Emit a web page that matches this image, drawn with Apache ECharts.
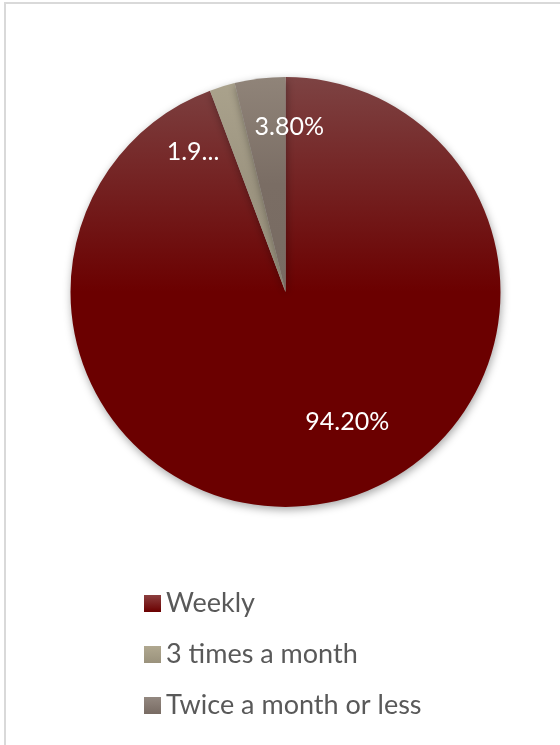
<!DOCTYPE html>
<html>
<head>
<meta charset="utf-8">
<script src="https://cdn.jsdelivr.net/npm/echarts@6/dist/echarts.min.js"></script>
<style>
  html, body { margin: 0; padding: 0; background: #ffffff; }
  #chart { width: 560px; height: 745px; }
</style>
</head>
<body>
<div id="chart"></div>
<script>
// Attendance frequency shares (percent)
const categories = ['Weekly', '3 times a month', 'Twice a month or less'];
const shares = [94.2, 1.9, 3.8];

// Slice fills: lighter at the top, darkening downward
const sliceFills = [
  ['#7d4343', '#6b0000', '#6b0000'],
  ['#aaa28c', '#9c9480', '#9a927e'],
  ['#908479', '#7a6d64', '#786b62']
];
// Legend swatch fills
const swatchFills = [
  ['#8c3f3f', '#6b0000'],
  ['#b0a890', '#9a927c'],
  ['#938880', '#786b63']
];

function vGrad(stops) {
  return {
    type: 'linear', x: 0, y: 0, x2: 0, y2: 1,
    colorStops: stops.map((c, i) => ({ offset: i / (stops.length - 1), color: c }))
  };
}

// Nudges that move each value label from the slice midpoint to where it sits
const labelNudge = [
  { dx: 42, dy: 21 },
  { dx: -60, dy: -34 },
  { dx: 17, dy: -55 }
];

const chart = echarts.init(document.getElementById('chart'));

const seriesData = categories.map((name, i) => ({
  name: name,
  value: shares[i],
  itemStyle: { color: vGrad(sliceFills[i]) },
  label: i === 1 ? { width: 64, overflow: 'truncate', ellipsis: '...' } : {}
}));

chart.setOption({
  animation: false,
  backgroundColor: '#ffffff',
  graphic: [{
    type: 'rect',
    shape: { x: 5, y: 3, width: 620, height: 820 },
    style: { fill: 'none', stroke: '#d9d9d9', lineWidth: 2 },
    silent: true
  }],
  legend: {
    orient: 'vertical',
    left: 144,
    top: 590,
    padding: 0,
    itemWidth: 17,
    itemHeight: 17,
    itemGap: 24,
    icon: 'rect',
    textStyle: { fontFamily: 'Lato', fontSize: 27, lineHeight: 27, color: '#595959' },
    data: categories.map((name, i) => ({
      name: name,
      itemStyle: { color: vGrad(swatchFills[i]) }
    }))
  },
  series: [{
    type: 'pie',
    center: [285.5, 292],
    radius: 215,
    startAngle: 90,
    clockwise: true,
    avoidLabelOverlap: false,
    label: {
      show: true,
      position: 'inside',
      color: '#ffffff',
      fontFamily: 'Lato',
      fontSize: 25,
      formatter: p => p.value.toFixed(2) + '%'
    },
    labelLine: { show: false },
    labelLayout: p => labelNudge[p.dataIndex],
    itemStyle: {
      borderWidth: 0,
      shadowBlur: 8,
      shadowOffsetX: 1,
      shadowOffsetY: 3,
      shadowColor: 'rgba(0,0,0,0.35)'
    },
    emphasis: { disabled: true },
    data: seriesData
  }]
});
</script>
</body>
</html>
